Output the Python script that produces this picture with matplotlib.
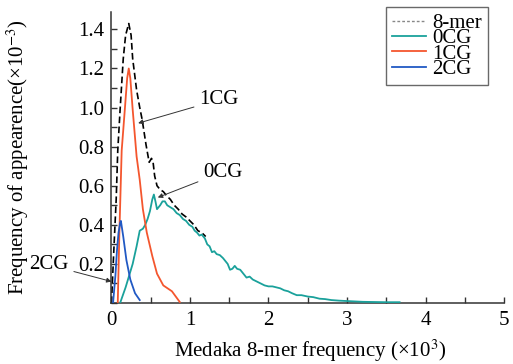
import numpy as np
import matplotlib
matplotlib.use("Agg")
import matplotlib.pyplot as plt
from matplotlib.ticker import MultipleLocator


# =========================================================
# Data
# =========================================================

MER8_X = [0.0, 0.03, 0.06, 0.08, 0.11, 0.15, 0.18, 0.22, 0.25, 0.27, 0.32,
          0.36, 0.39, 0.44, 0.48, 0.51, 0.53, 0.55, 0.58, 0.62, 0.66, 0.70,
          0.75, 0.80, 0.85, 0.90, 0.95, 1.00, 1.05, 1.10, 1.15, 1.20]
MER8_Y = [0.0, 0.27, 0.53, 0.78, 0.99, 1.25, 1.37, 1.43, 1.37, 1.25, 1.09,
          1.00, 0.94, 0.81, 0.72, 0.74, 0.72, 0.65, 0.60, 0.58, 0.57, 0.55,
          0.53, 0.50, 0.48, 0.455, 0.44, 0.42, 0.40, 0.37, 0.36, 0.34]

CG0_X = [0.11, 0.18, 0.27, 0.32, 0.36, 0.40, 0.43, 0.46, 0.49, 0.52, 0.54,
         0.56, 0.58, 0.60, 0.62, 0.65, 0.68, 0.71, 0.75, 0.79, 0.83, 0.87,
         0.91, 0.95, 0.99, 1.03, 1.06, 1.09, 1.12, 1.15, 1.19, 1.22, 1.25,
         1.28, 1.31, 1.34, 1.38, 1.42, 1.45, 1.48, 1.51, 1.54, 1.57, 1.60,
         1.64, 1.68, 1.72, 1.76, 1.80, 1.85, 1.90, 1.95, 2.00, 2.05, 2.10,
         2.15, 2.20, 2.25, 2.30, 2.36, 2.42, 2.50, 2.57, 2.65, 2.72, 2.80,
         2.90, 3.00, 3.10, 3.20, 3.35, 3.50, 3.67]
CG0_Y = [0.0, 0.08, 0.20, 0.29, 0.37, 0.38, 0.40, 0.43, 0.47, 0.53, 0.555,
         0.52, 0.48, 0.49, 0.50, 0.52, 0.52, 0.50, 0.49, 0.48, 0.46, 0.45,
         0.43, 0.42, 0.40, 0.39, 0.37, 0.36, 0.345, 0.35, 0.33, 0.30, 0.29,
         0.26, 0.265, 0.25, 0.245, 0.23, 0.215, 0.20, 0.17, 0.175, 0.19, 0.175,
         0.17, 0.15, 0.13, 0.135, 0.12, 0.11, 0.10, 0.09, 0.085, 0.085, 0.08,
         0.075, 0.065, 0.06, 0.05, 0.04, 0.04, 0.033, 0.03, 0.022, 0.02, 0.015,
         0.012, 0.01, 0.008, 0.006, 0.005, 0.004, 0.004]

CG1_X = [0.08, 0.10, 0.13, 0.17, 0.20, 0.22, 0.24, 0.27, 0.32, 0.36, 0.40,
         0.45, 0.52, 0.58, 0.66, 0.77, 0.87]
CG1_Y = [0.0, 0.35, 0.78, 0.99, 1.15, 1.20, 1.15, 0.99, 0.75, 0.63, 0.48,
         0.36, 0.24, 0.15, 0.09, 0.06, 0.005]

CG2_X = [0.02, 0.05, 0.07, 0.09, 0.11, 0.12, 0.15, 0.19, 0.24, 0.30, 0.36]
CG2_Y = [0.0, 0.14, 0.27, 0.36, 0.41, 0.42, 0.34, 0.22, 0.12, 0.05, 0.015]

X_TICKS = [0, 1, 2, 3, 4, 5]
Y_TICKS = [0.2, 0.4, 0.6, 0.8, 1.0, 1.2, 1.4]

COLORS = {
    "8-mer": "black",
    "0CG": "#1aa19b",
    "1CG": "#f4562e",
    "2CG": "#2159c4",
}

FS = 15


# =========================================================
# Plot
# =========================================================

plt.rcParams["font.family"] = ["Liberation Serif", "DejaVu Serif"]
plt.rcParams["mathtext.fontset"] = "stix"

fig = plt.figure(figsize=(5.13, 3.64), dpi=100)
ax = fig.add_axes([0.2173, 0.1676, 0.7652, 0.8])

ax.plot(MER8_X, MER8_Y, color=COLORS["8-mer"], lw=1.2, dashes=(4, 2), zorder=2)
ax.plot(CG0_X, CG0_Y, color=COLORS["0CG"], lw=1.3, zorder=3)
ax.plot(CG1_X, CG1_Y, color=COLORS["1CG"], lw=1.3, zorder=3)
ax.plot(CG2_X, CG2_Y, color=COLORS["2CG"], lw=1.3, zorder=3)

ax.set_xlim(0, 5)
ax.set_ylim(0, 1.49)
ax.set_xticks(X_TICKS)
ax.set_yticks(Y_TICKS)
ax.set_yticklabels([f"{v:.1f}" for v in Y_TICKS])
ax.xaxis.set_minor_locator(MultipleLocator(0.5))
ax.yaxis.set_minor_locator(MultipleLocator(0.1))
ax.tick_params(which="both", direction="in", labelsize=FS, width=1,
               color="#333333", length=4)
ax.tick_params(axis="y", pad=5)
ax.tick_params(axis="x", pad=6)

for side in ["top", "right"]:
    ax.spines[side].set_visible(False)
for side in ["left", "bottom"]:
    ax.spines[side].set_color("#333333")
    ax.spines[side].set_linewidth(1.1)

ax.set_xlabel(r"Medaka 8-mer frequency (×10$^{3}$)", fontsize=FS)
ax.set_ylabel(r"Frequency of appearence(×10$^{-3}$)", fontsize=FS)
ax.xaxis.set_label_coords(0.506, -0.118)
ax.yaxis.set_label_coords(-0.205, 0.5)

# annotations with arrows
arrow = dict(arrowstyle="-|>", color="#333333", lw=0.7, mutation_scale=7,
             shrinkA=2, shrinkB=0)
ax.annotate("1CG", xy=(0.34, 0.92), xytext=(1.12, 1.04), fontsize=FS,
            va="center", ha="left", arrowprops=arrow)
ax.annotate("0CG", xy=(0.59, 0.54), xytext=(1.17, 0.67), fontsize=FS,
            va="center", ha="left", arrowprops=arrow)
ax.annotate("2CG", xy=(0.0, 0.11), xytext=(-1.05, 0.195), fontsize=FS,
            va="center", ha="left", annotation_clip=False, arrowprops=arrow)

# legend
handles = [
    plt.Line2D([], [], color="#888888", lw=1.0, ls=(0, (2, 1.5))),
    plt.Line2D([], [], color=COLORS["0CG"], lw=1.3),
    plt.Line2D([], [], color=COLORS["1CG"], lw=1.3),
    plt.Line2D([], [], color=COLORS["2CG"], lw=1.3),
]
leg = fig.legend(handles, ["8-mer", "0CG", "1CG", "2CG"], loc="upper right",
                 bbox_to_anchor=(488 / 513, 1 - 7 / 364), fontsize=FS,
                 frameon=True, fancybox=False, handlelength=1.6,
                 labelspacing=-0.2, borderpad=0.3, handletextpad=0.3,
                 borderaxespad=0)
leg.get_frame().set_edgecolor("#444444")
leg.get_frame().set_linewidth(1.0)

fig.savefig("out.png", dpi=100)
